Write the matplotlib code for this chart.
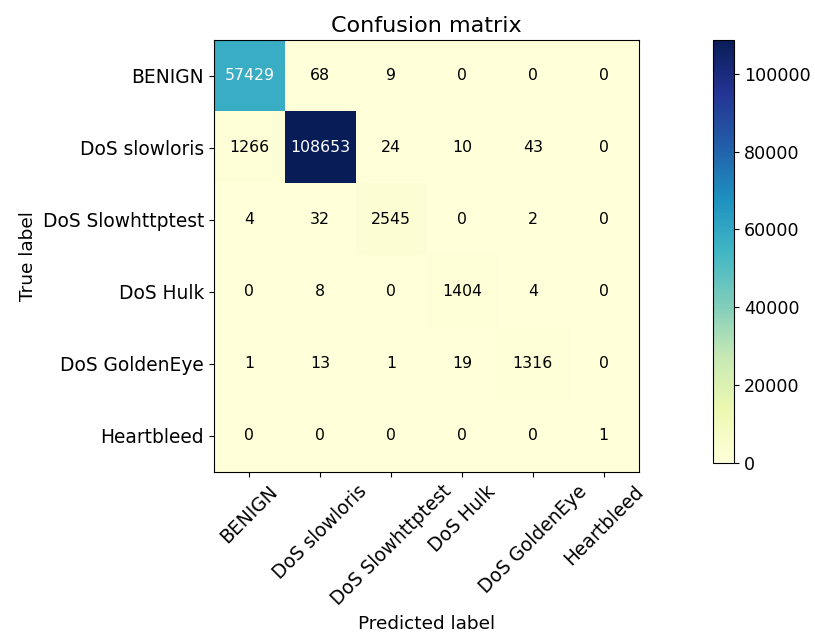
import numpy as np
import matplotlib
matplotlib.use("Agg")
import matplotlib.pyplot as plt

classes = ["BENIGN", "DoS slowloris", "DoS Slowhttptest", "DoS Hulk",
           "DoS GoldenEye", "Heartbleed"]

row_benign = [57429, 68, 9, 0, 0, 0]
row_slowloris = [1266, 108653, 24, 10, 43, 0]
row_slowhttptest = [4, 32, 2545, 0, 2, 0]
row_hulk = [0, 8, 0, 1404, 4, 0]
row_goldeneye = [1, 13, 1, 19, 1316, 0]
row_heartbleed = [0, 0, 0, 0, 0, 1]

cm = np.array([row_benign, row_slowloris, row_slowhttptest,
               row_hulk, row_goldeneye, row_heartbleed])

fig = plt.figure(figsize=(8.15, 6.42), dpi=100)
ax = fig.add_axes([0.2625, 0.2648, 0.5215, 0.673])
cax = fig.add_axes([0.875, 0.2788, 0.0258, 0.659])

im = ax.imshow(cm, interpolation="nearest", cmap=plt.cm.YlGnBu, aspect="auto")
ax.set_title("Confusion matrix", fontsize=16)
cb = fig.colorbar(im, cax=cax)
cb.set_ticks([0, 20000, 40000, 60000, 80000, 100000])
cb.ax.tick_params(labelsize=12.6)

ticks = np.arange(len(classes))
ax.set_xticks(ticks)
ax.set_xticklabels(classes, rotation=45, fontsize=13.4)
ax.set_yticks(ticks)
ax.set_yticklabels(classes, fontsize=13.4)

# white text on the dark cells, black elsewhere
thresh = cm.max() / 2.
for i in range(cm.shape[0]):
    for j in range(cm.shape[1]):
        ax.text(j, i, format(cm[i, j], "d"),
                horizontalalignment="center", verticalalignment="center",
                fontsize=11.3,
                color="white" if cm[i, j] > thresh else "black")

ax.set_ylabel("True label", fontsize=13.3)
ax.set_xlabel("Predicted label", fontsize=13.3)

fig.savefig("out.png", dpi=100)
